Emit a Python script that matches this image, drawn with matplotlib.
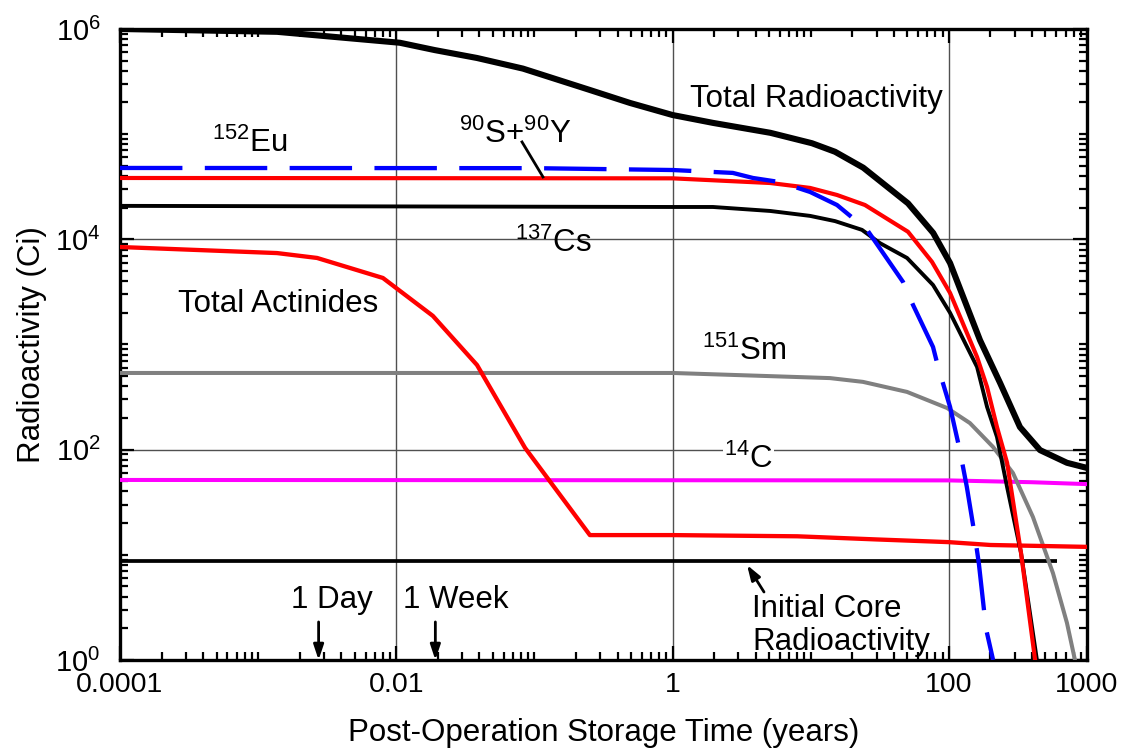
import matplotlib
matplotlib.use("Agg")
import matplotlib.pyplot as plt
from matplotlib.ticker import FixedLocator, FixedFormatter, NullFormatter
import numpy as np

plt.rcParams['font.family'] = ['Liberation Sans', 'DejaVu Sans']
plt.rcParams['mathtext.fontset'] = 'custom'
plt.rcParams['mathtext.rm'] = 'Liberation Sans'
plt.rcParams['mathtext.it'] = 'Liberation Sans:italic'
plt.rcParams['mathtext.bf'] = 'Liberation Sans:bold'
plt.rcParams['mathtext.default'] = 'regular'

# ---------------- data (years, Ci) ----------------
total_t = [1e-4, 1.37e-3, 0.0106, 0.019, 0.0384, 0.0826, 0.252, 0.492, 1.0, 1.96,
           5.1, 10.2, 15, 24, 50.6, 77, 102, 168, 235, 327, 457, 716, 1000]
total_a = [1.0e6, 9.4e5, 7.4e5, 6.3e5, 5.3e5, 4.2e5, 2.63e5, 1.98e5, 1.52e5, 1.28e5,
           1.03e5, 8.2e4, 6.8e4, 4.8e4, 2.2e4, 1.15e4, 5.95e3, 1.1e3, 430, 164, 99, 75, 67]

sr_t = [1e-4, 0.1, 1.0, 2.73, 3.82, 6.0, 9.9, 15.5, 25.6, 46.6, 55, 76.8, 83.6,
        102, 120, 135, 155, 165, 186, 209]
sr_a = [4.77e4, 4.75e4, 4.56e4, 4.28e4, 3.83e4, 3.5e4, 2.82e4, 2.12e4, 1.23e4, 3.93e3,
        2.38e3, 947, 611, 255, 99, 44, 14.5, 8.2, 1.97, 1.0]

eu_t = [1e-4, 1.0, 5.1, 9.9, 15.5, 24.7, 50.6, 75.5, 102, 160, 189, 223, 264, 333, 421]
eu_a = [3.83e4, 3.8e4, 3.43e4, 3.08e4, 2.64e4, 2.12e4, 1.18e4, 6.1e3, 3.09e3, 760,
        394, 164, 75, 10.4, 1.0]

cs_t = [1e-4, 1.0, 1.96, 5.1, 9.9, 15, 23.5, 31.7, 49.8, 76.8, 102, 160, 189, 223,
        264, 333, 434]
cs_a = [2.08e4, 2.03e4, 2.03e4, 1.86e4, 1.67e4, 1.49e4, 1.23e4, 9.2e3, 6.65e3, 3.68e3,
        2.0e3, 611, 255, 132, 44, 10.4, 1.0]

act_t = [1e-4, 1.37e-3, 2.67e-3, 8.0e-3, 0.0184, 0.0384, 0.0855, 0.252, 1.0, 8.0,
         30, 100, 200, 1000]
act_a = [8.45e3, 7.4e3, 6.65e3, 4.29e3, 1.87e3, 638, 104, 15.4, 15.4, 15.0, 14.0,
         13.2, 12.4, 11.9]

sm_t = [1e-4, 1.0, 5.1, 13.8, 23.9, 49.8, 97, 142, 209, 291, 406, 567, 716, 818]
sm_a = [536, 536, 500, 479, 441, 354, 249, 179, 106, 60, 22.9, 6.7, 2.25, 1.0]

c14_t = [1e-4, 100, 400, 1000]
c14_a = [51.5, 51.0, 49.0, 47.0]

core_t = [1e-4, 607]
core_a = [8.75, 8.75]

x_major = [1e-4, 1e-2, 1, 100, 1000]
x_labels = ['0.0001', '0.01', '1', '100', '1000']
y_major = [1, 1e2, 1e4, 1e6]
y_labels = ['10$^{0}$', '10$^{2}$', '10$^{4}$', '10$^{6}$']

# ---------------- figure ----------------
fig = plt.figure(figsize=(11.31, 7.51), dpi=100)
ax = fig.add_axes([0.1061, 0.1212, 0.855, 0.8402])
ax.set_xscale('log')
ax.set_yscale('log')
ax.set_xlim(1e-4, 1000)
ax.set_ylim(1, 1e6)

ax.plot(core_t, core_a, color='black', lw=2.7, solid_capstyle='butt', zorder=3)
ax.plot(c14_t, c14_a, color='#ff00ff', lw=2.9, zorder=3)
ax.plot(sm_t, sm_a, color='#808080', lw=2.9, zorder=3)
ax.plot(act_t, act_a, color='#ff0000', lw=3.1, zorder=3)
ax.plot(cs_t, cs_a, color='black', lw=2.8, zorder=4)
ax.plot(eu_t, eu_a, color='#ff0000', lw=3.0, zorder=4)
ax.plot(sr_t, sr_a, color='#0000ff', lw=3.1, dashes=(14.5, 5.2), zorder=5)
ax.plot(total_t, total_a, color='black', lw=4.4, zorder=6)

# ticks
ax.xaxis.set_major_locator(FixedLocator(x_major))
ax.xaxis.set_major_formatter(FixedFormatter(x_labels))
xminor = [k * 10.0 ** n for n in range(-4, 3) for k in range(1, 10)]
ax.xaxis.set_minor_locator(FixedLocator(xminor))
ax.xaxis.set_minor_formatter(NullFormatter())
ax.yaxis.set_major_locator(FixedLocator(y_major))
ax.yaxis.set_major_formatter(FixedFormatter(y_labels))
yminor = [k * 10.0 ** n for n in range(0, 6) for k in range(1, 10)]
ax.yaxis.set_minor_locator(FixedLocator(yminor))
ax.yaxis.set_minor_formatter(NullFormatter())

ax.tick_params(which='both', direction='in', top=True, right=True, width=1.6,
               colors='black')
ax.tick_params(which='major', length=10, labelsize=20.5, pad=9)
ax.tick_params(which='minor', length=6)
ax.tick_params(axis='y', which='major', pad=14, labelsize=21)
for s in ax.spines.values():
    s.set_linewidth(2.4)

ax.set_axisbelow(True)
ax.grid(True, which='major', color='#505050', lw=1.0)
ax.grid(False, which='minor')

ax.set_xlabel('Post-Operation Storage Time (years)', fontsize=22.5, labelpad=14)
ax.set_ylabel('Radioactivity (Ci)', fontsize=22.5, labelpad=6)

fs = 22.5
ax.text(4.64e-4, 6.77e4, r'$^{152}$Eu', fontsize=fs, ha='left', va='baseline')
ax.text(0.0284, 8.24e4, r'$^{90}$S+$^{90}$Y', fontsize=fs, ha='left', va='baseline')
ax.plot([0.0813, 0.1153], [8.43e4, 3.92e4], color='black', lw=2.0, zorder=7)
ax.text(0.0722, 7.58e3, r'$^{137}$Cs', fontsize=fs, ha='left', va='baseline')
ax.text(1.34, 1.81e5, 'Total Radioactivity', fontsize=fs, ha='left', va='baseline',
        bbox=dict(facecolor='white', edgecolor='none', pad=1.5), zorder=2)
ax.text(2.63e-4, 2.04e3, 'Total Actinides', fontsize=fs, ha='left', va='baseline')
ax.text(1.63, 713, r'$^{151}$Sm', fontsize=fs, ha='left', va='baseline')
ax.text(2.36, 67, r'$^{14}$C', fontsize=fs, ha='left', va='baseline',
        bbox=dict(facecolor='white', edgecolor='none', pad=0.5), zorder=2)
ax.text(1.73e-3, 3.13, '1 Day', fontsize=fs, ha='left', va='baseline')
ax.text(0.0112, 3.13, '1 Week', fontsize=fs, ha='left', va='baseline')
ax.text(3.76, 2.56, 'Initial Core', fontsize=fs, ha='left', va='baseline')
ax.text(3.76, 1.245, 'Radioactivity', fontsize=fs, ha='left', va='baseline')

arrow = dict(arrowstyle='-|>,head_length=0.9,head_width=0.3', color='black',
             lw=2.0, shrinkA=0, shrinkB=0)
ax.annotate('', xy=(1 / 365.0, 1.0), xytext=(1 / 365.0, 2.3), arrowprops=arrow)
ax.annotate('', xy=(7 / 365.0, 1.0), xytext=(7 / 365.0, 2.3), arrowprops=arrow)
ax.annotate('', xy=(3.46, 8.0), xytext=(4.59, 4.43), arrowprops=arrow)

fig.savefig('out.png', dpi=100)
